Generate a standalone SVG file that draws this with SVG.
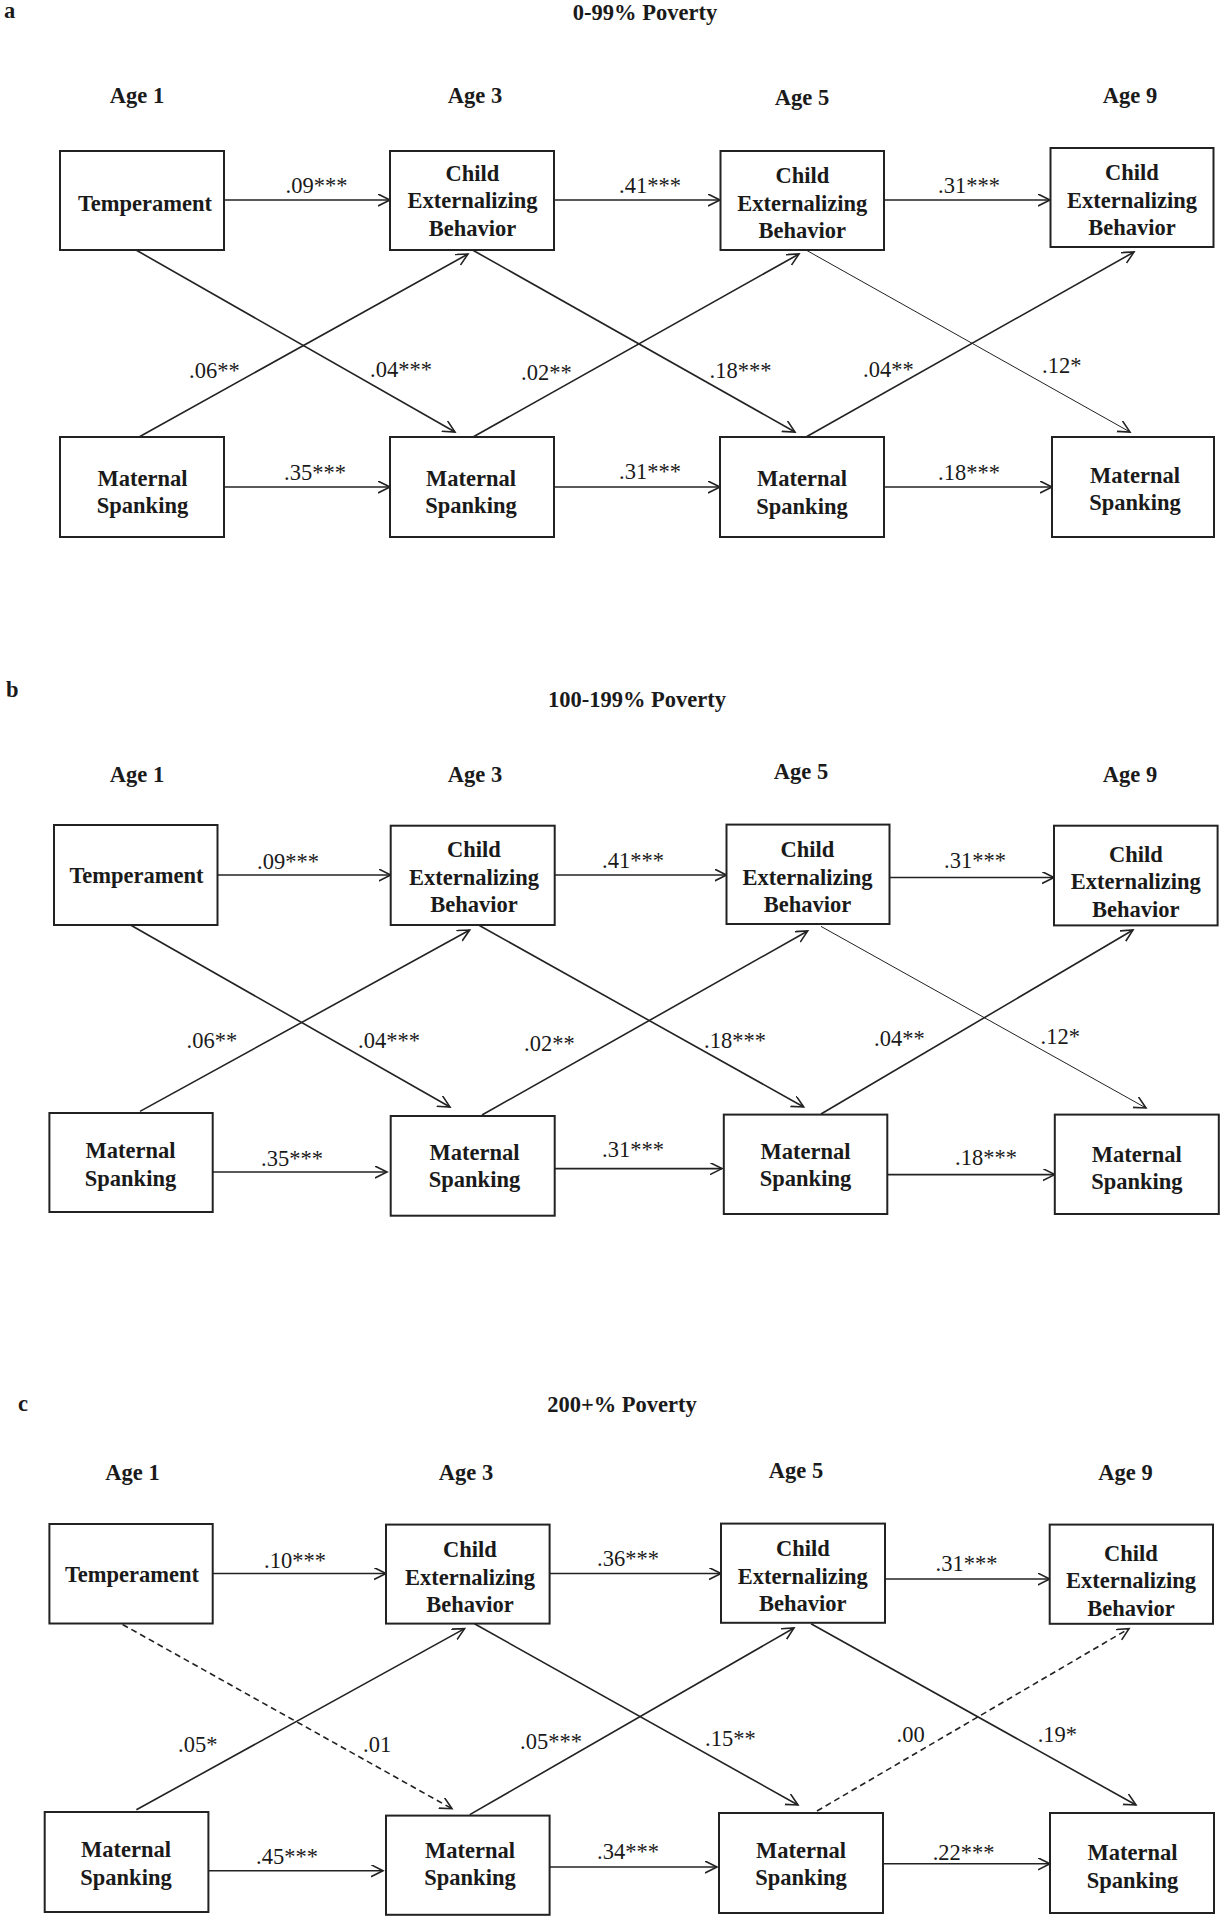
<svg xmlns="http://www.w3.org/2000/svg" width="1224" height="1920" viewBox="0 0 1224 1920">
<style>
  .bg{fill:#fff}
  .box{fill:#fff;stroke:#222;stroke-width:2}
  .nt{font-family:"Liberation Serif","Times New Roman",serif;font-weight:bold;font-size:22.5px;fill:#1a1a1a;text-anchor:middle}
  .hd{font-family:"Liberation Serif","Times New Roman",serif;font-weight:bold;font-size:22.5px;fill:#1a1a1a}
  .lb{font-family:"Liberation Serif","Times New Roman",serif;font-size:22.5px;fill:#1a1a1a}
  .e{fill:none;stroke:#222;stroke-width:1.6;marker-end:url(#ah)}
  .thin{stroke-width:1}
  .dash{stroke-dasharray:6 4}
</style>
<defs>
  <marker id="ah" markerUnits="userSpaceOnUse" markerWidth="14" markerHeight="14" refX="12" refY="6" orient="auto">
    <path d="M0,0 L12,6 L0,12" fill="none" stroke="#222" stroke-width="1.6"/>
  </marker>
</defs>
<rect class="bg" x="0" y="0" width="1224" height="1920"/>

<!-- ===== Panel a ===== -->
<g id="panel-a-headers">
  <text class="hd" x="4" y="18">a</text>
  <text class="nt" x="645" y="20">0-99% Poverty</text>
  <text class="nt" x="137" y="103">Age 1</text>
  <text class="nt" x="475" y="103">Age 3</text>
  <text class="nt" x="802" y="105">Age 5</text>
  <text class="nt" x="1130" y="103">Age 9</text>
</g>
<g id="a-connectors">
  <line class="e" x1="224" y1="200" x2="390" y2="200"/>
  <line class="e" x1="554" y1="200" x2="720" y2="200"/>
  <line class="e" x1="884" y1="200" x2="1050" y2="200"/>
  <line class="e" x1="224" y1="487" x2="390" y2="487"/>
  <line class="e" x1="554" y1="487" x2="720" y2="487"/>
  <line class="e" x1="884" y1="487" x2="1052" y2="487"/>
  <line class="e" x1="136" y1="250" x2="455" y2="432"/>
  <line class="e" x1="139" y1="437" x2="468" y2="254"/>
  <line class="e" x1="472.5" y1="250" x2="795" y2="432"/>
  <line class="e" x1="473" y1="437" x2="799" y2="254"/>
  <line class="e thin" x1="806" y1="250" x2="1130" y2="432"/>
  <line class="e" x1="806" y1="437" x2="1134" y2="252"/>
  <text class="lb" x="285.5" y="193">.09***</text>
  <text class="lb" x="619" y="193">.41***</text>
  <text class="lb" x="938" y="193">.31***</text>
  <text class="lb" x="284" y="480">.35***</text>
  <text class="lb" x="619" y="479">.31***</text>
  <text class="lb" x="938" y="480">.18***</text>
  <text class="lb" x="189" y="378">.06**</text>
  <text class="lb" x="370" y="377">.04***</text>
  <text class="lb" x="521" y="380">.02**</text>
  <text class="lb" x="709.5" y="378">.18***</text>
  <text class="lb" x="863" y="377">.04**</text>
  <text class="lb" x="1042" y="373">.12*</text>
</g>
<g id="a-temperament"><rect class="box" x="60" y="151" width="164" height="99"/><text class="nt" x="145" y="210.5">Temperament</text></g>
<g id="a-child3"><rect class="box" x="390" y="151" width="164" height="99"/><text class="nt" x="472.5" y="180.5">Child</text><text class="nt" x="472.5" y="208">Externalizing</text><text class="nt" x="472.5" y="235.5">Behavior</text></g>
<g id="a-child5"><rect class="box" x="720.5" y="151" width="163.5" height="99"/><text class="nt" x="802.3" y="183">Child</text><text class="nt" x="802.3" y="210.5">Externalizing</text><text class="nt" x="802.3" y="238">Behavior</text></g>
<g id="a-child9"><rect class="box" x="1050.5" y="148" width="163" height="99"/><text class="nt" x="1132" y="180">Child</text><text class="nt" x="1132" y="207.5">Externalizing</text><text class="nt" x="1132" y="235">Behavior</text></g>
<g id="a-spank1"><rect class="box" x="60" y="437" width="164" height="100"/><text class="nt" x="142.5" y="485.5">Maternal</text><text class="nt" x="142.5" y="513">Spanking</text></g>
<g id="a-spank3"><rect class="box" x="390" y="437" width="164" height="100"/><text class="nt" x="471" y="485.5">Maternal</text><text class="nt" x="471" y="513">Spanking</text></g>
<g id="a-spank5"><rect class="box" x="720" y="437" width="164" height="100"/><text class="nt" x="802" y="486">Maternal</text><text class="nt" x="802" y="513.5">Spanking</text></g>
<g id="a-spank9"><rect class="box" x="1052" y="437" width="162" height="100"/><text class="nt" x="1135" y="482.5">Maternal</text><text class="nt" x="1135" y="510">Spanking</text></g>

<!-- ===== Panel b ===== -->
<g id="panel-b-headers">
  <text class="hd" x="6" y="697">b</text>
  <text class="nt" x="637" y="707">100-199% Poverty</text>
  <text class="nt" x="137" y="782">Age 1</text>
  <text class="nt" x="475" y="782">Age 3</text>
  <text class="nt" x="801" y="779">Age 5</text>
  <text class="nt" x="1130" y="782">Age 9</text>
</g>
<g id="b-connectors">
  <line class="e" x1="217.5" y1="875" x2="390.7" y2="875"/>
  <line class="e" x1="554.8" y1="875" x2="726.5" y2="875"/>
  <line class="e" x1="889.7" y1="877.5" x2="1054" y2="877.5"/>
  <line class="e" x1="212.7" y1="1172" x2="387" y2="1172"/>
  <line class="e" x1="554.8" y1="1168.6" x2="722" y2="1168.6"/>
  <line class="e" x1="887.3" y1="1174.6" x2="1054.8" y2="1174.6"/>
  <line class="e" x1="130.5" y1="925" x2="450" y2="1107"/>
  <line class="e" x1="140" y1="1111.4" x2="469.7" y2="930"/>
  <line class="e" x1="478.5" y1="925" x2="803.7" y2="1107"/>
  <line class="e" x1="482" y1="1115" x2="807.7" y2="931"/>
  <line class="e thin" x1="821" y1="926.4" x2="1146" y2="1108"/>
  <line class="e" x1="821" y1="1114" x2="1133" y2="930"/>
  <text class="lb" x="257" y="869">.09***</text>
  <text class="lb" x="602" y="868">.41***</text>
  <text class="lb" x="944" y="868">.31***</text>
  <text class="lb" x="261" y="1166">.35***</text>
  <text class="lb" x="602" y="1157">.31***</text>
  <text class="lb" x="955" y="1165">.18***</text>
  <text class="lb" x="186.6" y="1048">.06**</text>
  <text class="lb" x="358" y="1048">.04***</text>
  <text class="lb" x="524" y="1051">.02**</text>
  <text class="lb" x="704" y="1048">.18***</text>
  <text class="lb" x="874" y="1046">.04**</text>
  <text class="lb" x="1040.5" y="1043.6">.12*</text>
</g>
<g id="b-temperament"><rect class="box" x="54" y="825" width="163.5" height="100"/><text class="nt" x="136.5" y="883">Temperament</text></g>
<g id="b-child3"><rect class="box" x="390.7" y="825.7" width="164" height="99.3"/><text class="nt" x="474" y="857">Child</text><text class="nt" x="474" y="884.5">Externalizing</text><text class="nt" x="474" y="912">Behavior</text></g>
<g id="b-child5"><rect class="box" x="726.5" y="824.6" width="163" height="99.4"/><text class="nt" x="807.5" y="857">Child</text><text class="nt" x="807.5" y="884.5">Externalizing</text><text class="nt" x="807.5" y="912">Behavior</text></g>
<g id="b-child9"><rect class="box" x="1054" y="825.7" width="163.6" height="99.7"/><text class="nt" x="1135.8" y="861.5">Child</text><text class="nt" x="1135.8" y="889">Externalizing</text><text class="nt" x="1135.8" y="916.5">Behavior</text></g>
<g id="b-spank1"><rect class="box" x="49.4" y="1113" width="163.3" height="99"/><text class="nt" x="130.5" y="1158">Maternal</text><text class="nt" x="130.5" y="1185.5">Spanking</text></g>
<g id="b-spank3"><rect class="box" x="390.7" y="1116" width="164" height="99.7"/><text class="nt" x="474.5" y="1159.5">Maternal</text><text class="nt" x="474.5" y="1187">Spanking</text></g>
<g id="b-spank5"><rect class="box" x="723.8" y="1114.6" width="163.5" height="99.4"/><text class="nt" x="805.5" y="1158.5">Maternal</text><text class="nt" x="805.5" y="1186">Spanking</text></g>
<g id="b-spank9"><rect class="box" x="1054.8" y="1114.6" width="164" height="99.4"/><text class="nt" x="1136.8" y="1161.5">Maternal</text><text class="nt" x="1136.8" y="1189">Spanking</text></g>

<!-- ===== Panel c ===== -->
<g id="panel-c-headers">
  <text class="hd" x="18" y="1411">c</text>
  <text class="nt" x="622" y="1412">200+% Poverty</text>
  <text class="nt" x="132.5" y="1480">Age 1</text>
  <text class="nt" x="466" y="1480">Age 3</text>
  <text class="nt" x="796" y="1477.5">Age 5</text>
  <text class="nt" x="1125.5" y="1480">Age 9</text>
</g>
<g id="c-connectors">
  <line class="e" x1="212.7" y1="1573.5" x2="386" y2="1573.5"/>
  <line class="e" x1="549.6" y1="1573.5" x2="721" y2="1573.5"/>
  <line class="e" x1="885" y1="1579" x2="1049.7" y2="1579"/>
  <line class="e" x1="208.4" y1="1870.7" x2="383" y2="1870.7"/>
  <line class="e" x1="549.6" y1="1867" x2="717" y2="1867"/>
  <line class="e" x1="883" y1="1863.8" x2="1050" y2="1863.8"/>
  <line class="e dash" x1="122.6" y1="1624.5" x2="452" y2="1808.7"/>
  <line class="e" x1="136.4" y1="1809.8" x2="464.6" y2="1628.6"/>
  <line class="e" x1="474.5" y1="1623.8" x2="798" y2="1805"/>
  <line class="e" x1="469.8" y1="1814.6" x2="794" y2="1628"/>
  <line class="e" x1="811" y1="1623.8" x2="1136" y2="1805"/>
  <line class="e dash" x1="817" y1="1811" x2="1129" y2="1628.6"/>
  <text class="lb" x="264" y="1567.7">.10***</text>
  <text class="lb" x="597" y="1566">.36***</text>
  <text class="lb" x="935.5" y="1571">.31***</text>
  <text class="lb" x="256" y="1863.8">.45***</text>
  <text class="lb" x="597" y="1858.7">.34***</text>
  <text class="lb" x="932.7" y="1859.7">.22***</text>
  <text class="lb" x="178" y="1752">.05*</text>
  <text class="lb" x="363" y="1752">.01</text>
  <text class="lb" x="520" y="1749">.05***</text>
  <text class="lb" x="705" y="1745.7">.15**</text>
  <text class="lb" x="896.5" y="1741.6">.00</text>
  <text class="lb" x="1037.7" y="1741.6">.19*</text>
</g>
<g id="c-temperament"><rect class="box" x="49.4" y="1524" width="163.3" height="99.5"/><text class="nt" x="132" y="1582">Temperament</text></g>
<g id="c-child3"><rect class="box" x="386" y="1524.6" width="163.6" height="99"/><text class="nt" x="470" y="1557">Child</text><text class="nt" x="470" y="1584.5">Externalizing</text><text class="nt" x="470" y="1612">Behavior</text></g>
<g id="c-child5"><rect class="box" x="721" y="1523.6" width="164" height="99.2"/><text class="nt" x="802.8" y="1556">Child</text><text class="nt" x="802.8" y="1583.5">Externalizing</text><text class="nt" x="802.8" y="1611">Behavior</text></g>
<g id="c-child9"><rect class="box" x="1049.7" y="1524.6" width="163.3" height="99.2"/><text class="nt" x="1131" y="1560.5">Child</text><text class="nt" x="1131" y="1588">Externalizing</text><text class="nt" x="1131" y="1615.5">Behavior</text></g>
<g id="c-spank1"><rect class="box" x="44.7" y="1812" width="163.7" height="100"/><text class="nt" x="126" y="1857">Maternal</text><text class="nt" x="126" y="1884.5">Spanking</text></g>
<g id="c-spank3"><rect class="box" x="386" y="1815.6" width="163.6" height="99.2"/><text class="nt" x="470" y="1857.5">Maternal</text><text class="nt" x="470" y="1885">Spanking</text></g>
<g id="c-spank5"><rect class="box" x="719" y="1813" width="164" height="100"/><text class="nt" x="801" y="1857.5">Maternal</text><text class="nt" x="801" y="1885">Spanking</text></g>
<g id="c-spank9"><rect class="box" x="1050" y="1813" width="164" height="100"/><text class="nt" x="1132.5" y="1860">Maternal</text><text class="nt" x="1132.5" y="1887.5">Spanking</text></g>
</svg>
